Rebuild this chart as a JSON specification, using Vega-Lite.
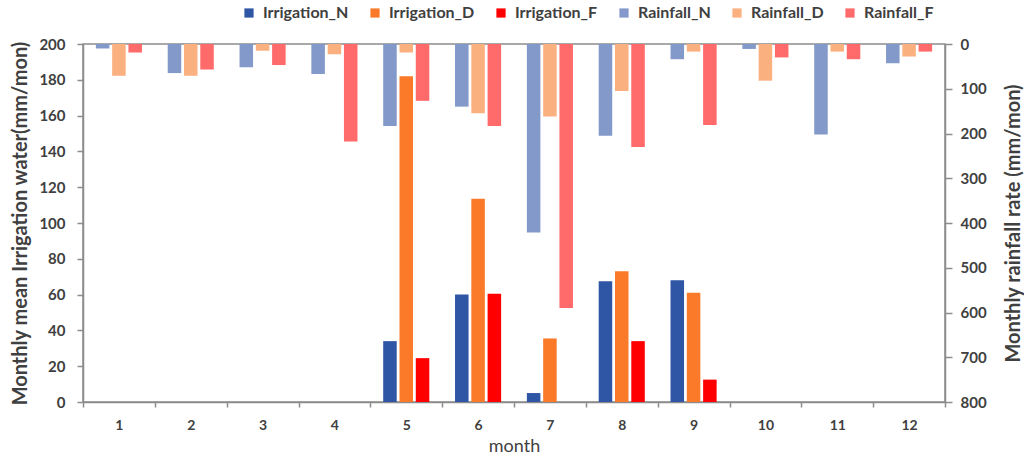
{
  "$schema": "https://vega.github.io/schema/vega-lite/v6.json",
  "width": 862,
  "height": 358,
  "autosize": {"type": "none"},
  "padding": {"left": 83, "top": 44, "right": 79, "bottom": 54},
  "background": "white",
  "config": {
    "font": "Lato",
    "view": {"stroke": "#8c8c8c", "strokeWidth": 1.5},
    "axis": {
      "grid": false,
      "domainColor": "#8c8c8c",
      "domainWidth": 1.5,
      "tickColor": "#8c8c8c",
      "tickWidth": 1.5,
      "labelColor": "#404040",
      "titleColor": "#404040",
      "labelFont": "Lato",
      "titleFont": "Lato"
    }
  },
  "data": {
    "values": [
      {"month": 1, "grp": "N", "irrSeries": "Irrigation_N", "rainSeries": "Rainfall_N", "irr": 0, "rain": 10},
      {"month": 1, "grp": "D", "irrSeries": "Irrigation_D", "rainSeries": "Rainfall_D", "irr": 0, "rain": 71},
      {"month": 1, "grp": "F", "irrSeries": "Irrigation_F", "rainSeries": "Rainfall_F", "irr": 0, "rain": 19},
      {"month": 2, "grp": "N", "irrSeries": "Irrigation_N", "rainSeries": "Rainfall_N", "irr": 0, "rain": 65},
      {"month": 2, "grp": "D", "irrSeries": "Irrigation_D", "rainSeries": "Rainfall_D", "irr": 0, "rain": 71},
      {"month": 2, "grp": "F", "irrSeries": "Irrigation_F", "rainSeries": "Rainfall_F", "irr": 0, "rain": 57},
      {"month": 3, "grp": "N", "irrSeries": "Irrigation_N", "rainSeries": "Rainfall_N", "irr": 0, "rain": 52},
      {"month": 3, "grp": "D", "irrSeries": "Irrigation_D", "rainSeries": "Rainfall_D", "irr": 0, "rain": 15},
      {"month": 3, "grp": "F", "irrSeries": "Irrigation_F", "rainSeries": "Rainfall_F", "irr": 0, "rain": 47},
      {"month": 4, "grp": "N", "irrSeries": "Irrigation_N", "rainSeries": "Rainfall_N", "irr": 0, "rain": 67},
      {"month": 4, "grp": "D", "irrSeries": "Irrigation_D", "rainSeries": "Rainfall_D", "irr": 0, "rain": 23},
      {"month": 4, "grp": "F", "irrSeries": "Irrigation_F", "rainSeries": "Rainfall_F", "irr": 0, "rain": 218},
      {"month": 5, "grp": "N", "irrSeries": "Irrigation_N", "rainSeries": "Rainfall_N", "irr": 34, "rain": 183},
      {"month": 5, "grp": "D", "irrSeries": "Irrigation_D", "rainSeries": "Rainfall_D", "irr": 182, "rain": 19},
      {"month": 5, "grp": "F", "irrSeries": "Irrigation_F", "rainSeries": "Rainfall_F", "irr": 24.5, "rain": 127},
      {"month": 6, "grp": "N", "irrSeries": "Irrigation_N", "rainSeries": "Rainfall_N", "irr": 60, "rain": 140},
      {"month": 6, "grp": "D", "irrSeries": "Irrigation_D", "rainSeries": "Rainfall_D", "irr": 113.5, "rain": 155},
      {"month": 6, "grp": "F", "irrSeries": "Irrigation_F", "rainSeries": "Rainfall_F", "irr": 60.5, "rain": 183},
      {"month": 7, "grp": "N", "irrSeries": "Irrigation_N", "rainSeries": "Rainfall_N", "irr": 5, "rain": 421},
      {"month": 7, "grp": "D", "irrSeries": "Irrigation_D", "rainSeries": "Rainfall_D", "irr": 35.5, "rain": 162},
      {"month": 7, "grp": "F", "irrSeries": "Irrigation_F", "rainSeries": "Rainfall_F", "irr": 0, "rain": 590},
      {"month": 8, "grp": "N", "irrSeries": "Irrigation_N", "rainSeries": "Rainfall_N", "irr": 67.5, "rain": 205},
      {"month": 8, "grp": "D", "irrSeries": "Irrigation_D", "rainSeries": "Rainfall_D", "irr": 73, "rain": 105},
      {"month": 8, "grp": "F", "irrSeries": "Irrigation_F", "rainSeries": "Rainfall_F", "irr": 34, "rain": 230},
      {"month": 9, "grp": "N", "irrSeries": "Irrigation_N", "rainSeries": "Rainfall_N", "irr": 68, "rain": 34},
      {"month": 9, "grp": "D", "irrSeries": "Irrigation_D", "rainSeries": "Rainfall_D", "irr": 61, "rain": 17},
      {"month": 9, "grp": "F", "irrSeries": "Irrigation_F", "rainSeries": "Rainfall_F", "irr": 12.5, "rain": 181},
      {"month": 10, "grp": "N", "irrSeries": "Irrigation_N", "rainSeries": "Rainfall_N", "irr": 0, "rain": 11},
      {"month": 10, "grp": "D", "irrSeries": "Irrigation_D", "rainSeries": "Rainfall_D", "irr": 0, "rain": 82},
      {"month": 10, "grp": "F", "irrSeries": "Irrigation_F", "rainSeries": "Rainfall_F", "irr": 0, "rain": 30},
      {"month": 11, "grp": "N", "irrSeries": "Irrigation_N", "rainSeries": "Rainfall_N", "irr": 0, "rain": 202},
      {"month": 11, "grp": "D", "irrSeries": "Irrigation_D", "rainSeries": "Rainfall_D", "irr": 0, "rain": 17},
      {"month": 11, "grp": "F", "irrSeries": "Irrigation_F", "rainSeries": "Rainfall_F", "irr": 0, "rain": 34},
      {"month": 12, "grp": "N", "irrSeries": "Irrigation_N", "rainSeries": "Rainfall_N", "irr": 0, "rain": 43},
      {"month": 12, "grp": "D", "irrSeries": "Irrigation_D", "rainSeries": "Rainfall_D", "irr": 0, "rain": 28},
      {"month": 12, "grp": "F", "irrSeries": "Irrigation_F", "rainSeries": "Rainfall_F", "irr": 0, "rain": 17}
    ]
  },
  "encoding": {
    "x": {
      "field": "month",
      "type": "ordinal",
      "scale": {"paddingInner": 0, "paddingOuter": 0},
      "axis": {
        "title": "month",
        "titleFontSize": 18,
        "titleFontWeight": "normal",
        "titlePadding": 5,
        "labelAngle": 0,
        "labelFontSize": 14,
        "labelFontWeight": "bold",
        "labelPadding": 11,
        "tickBand": "extent",
        "tickSize": 5
      }
    },
    "xOffset": {
      "field": "grp",
      "type": "nominal",
      "sort": ["N", "D", "F"],
      "scale": {"paddingInner": 0.17, "paddingOuter": 0.79}
    }
  },
  "layer": [
    {
      "mark": {"type": "bar"},
      "encoding": {
        "y": {
          "field": "irr",
          "type": "quantitative",
          "scale": {"domain": [0, 200]},
          "axis": {
            "title": "Monthly mean Irrigation water(mm/mon)",
            "titleFontSize": 20,
            "titleFontWeight": "bold",
            "titlePadding": 8,
            "labelFontSize": 15,
            "labelFontWeight": "bold",
            "labelPadding": 12,
            "tickSize": 6,
            "values": [0, 20, 40, 60, 80, 100, 120, 140, 160, 180, 200]
          }
        },
        "color": {
          "field": "irrSeries",
          "type": "nominal",
          "scale": {
            "domain": ["Irrigation_N", "Irrigation_D", "Irrigation_F", "Rainfall_N", "Rainfall_D", "Rainfall_F"],
            "range": ["#2F55A5", "#FA7A2A", "#FF0000", "#8299C9", "#FBB080", "#FF6A6A"]
          },
          "legend": {
            "title": null,
            "orient": "none",
            "legendX": 158,
            "legendY": -39,
            "direction": "horizontal",
            "columns": 6,
            "symbolType": "square",
            "symbolSize": 85,
            "symbolStrokeWidth": 0,
            "labelFontSize": 16,
            "labelFontWeight": "bold",
            "labelColor": "#404040",
            "labelOffset": 6,
            "columnPadding": 18
          }
        }
      }
    },
    {
      "mark": {"type": "bar"},
      "encoding": {
        "y": {
          "field": "rain",
          "type": "quantitative",
          "scale": {"domain": [0, 800], "reverse": true},
          "axis": {
            "orient": "right",
            "title": "Monthly rainfall rate (mm/mon)",
            "titleAngle": 270,
            "titleBaseline": "top",
            "titleFontSize": 20,
            "titleFontWeight": "bold",
            "titlePadding": 17,
            "labelFontSize": 15,
            "labelFontWeight": "bold",
            "labelPadding": 8,
            "tickSize": 7,
            "values": [0, 100, 200, 300, 400, 500, 600, 700, 800]
          }
        },
        "color": {
          "field": "rainSeries",
          "type": "nominal"
        }
      }
    }
  ],
  "resolve": {"scale": {"y": "independent"}}
}
